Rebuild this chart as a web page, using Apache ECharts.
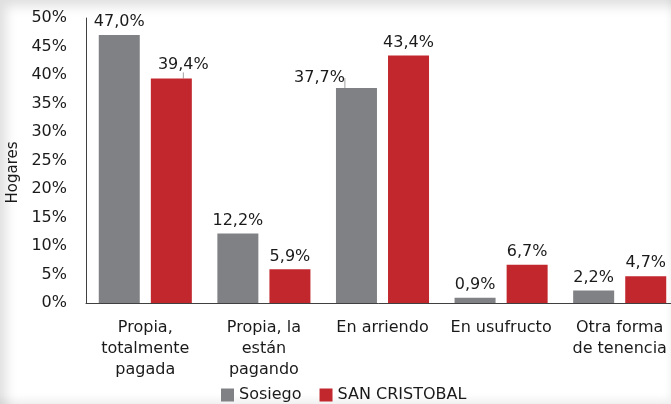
<!DOCTYPE html>
<html>
<head>
<meta charset="utf-8">
<script src="https://cdn.jsdelivr.net/npm/echarts@6/dist/echarts.min.js"></script>
<style>
    html, body { margin: 0; padding: 0; }
    body {
        width: 671px; height: 404px; overflow: hidden; background: #fff;
        box-shadow: inset 12px 12px 12px -6px rgba(0,0,0,0.13), inset -4px -8px 8px -4px rgba(0,0,0,0.07);
    }
    #chart { width: 671px; height: 404px; }
</style>
</head>
<body>
<div id="chart"></div>
<script>
    // categorias de tenencia
    var categories = ['Propia,\ntotalmente\npagada', 'Propia, la\nestán\npagando', 'En arriendo', 'En usufructo', 'Otra forma\nde tenencia'];
    var sosiego = [47.0, 12.2, 37.7, 0.9, 2.2];
    var sanCristobal = [39.4, 5.9, 43.4, 6.7, 4.7];
    var yTicks = {min: 0, max: 50, interval: 5};

    var font = 'DejaVu Sans';
    var fmt = function (v) { return v.toFixed(1).replace('.', ',') + '%'; };

    // solo las etiquetas desplazadas llevan linea guia
    var withLeader = function (values, idx) {
        return values.map(function (v, i) {
            return i === idx ? {value: v, labelLine: {show: true}} : v;
        });
    };

    var myChart = echarts.init(document.getElementById('chart'));
    var option = {
        animation: false,
        textStyle: {fontFamily: font},
        grid: {left: 86, top: 18, width: 593, height: 285, outerBoundsMode: 'none', containLabel: false},
        legend: {
            left: 216, top: 382,
            itemWidth: 13, itemHeight: 13, itemGap: 18,
            icon: 'rect',
            textStyle: {fontFamily: font, fontSize: 16, color: '#1a1a1a'},
            data: ['Sosiego', 'SAN CRISTOBAL']
        },
        xAxis: {
            type: 'category',
            data: categories,
            axisLine: {lineStyle: {color: '#404040', width: 1}},
            axisTick: {show: false},
            axisLabel: {fontFamily: font, fontSize: 16, color: '#1a1a1a', lineHeight: 21, margin: 14, interval: 0}
        },
        yAxis: {
            type: 'value',
            min: yTicks.min, max: yTicks.max, interval: yTicks.interval,
            name: 'Hogares',
            nameLocation: 'middle',
            nameGap: 60,
            nameRotate: 90,
            nameTextStyle: {fontFamily: font, fontSize: 15, color: '#1a1a1a', padding: [0, 24, 0, 0]},
            axisLine: {show: true, lineStyle: {color: '#404040', width: 1}},
            axisTick: {show: false},
            splitLine: {show: false},
            axisLabel: {formatter: '{value}%', fontFamily: font, fontSize: 16, color: '#1a1a1a', margin: 19}
        },
        series: [
            {
                name: 'Sosiego',
                type: 'bar',
                data: withLeader(sosiego, 2),
                barWidth: 41,
                barGap: '27%',
                itemStyle: {color: '#808184'},
                label: {show: true, position: 'top', distance: 5, fontSize: 16, color: '#1a1a1a', formatter: function (p) { return fmt(p.value); }},
                labelLine: {show: false, lineStyle: {color: '#a0a0a0', width: 1}},
                labelLayout: function (p) {
                    if (p.dataIndex === 2) return {dx: -37, dy: 3};
                    return {};
                }
            },
            {
                name: 'SAN CRISTOBAL',
                type: 'bar',
                data: withLeader(sanCristobal, 0),
                barWidth: 41,
                itemStyle: {color: '#c1272d'},
                label: {show: true, position: 'top', distance: 5, fontSize: 16, color: '#1a1a1a', formatter: function (p) { return fmt(p.value); }},
                labelLine: {show: false, lineStyle: {color: '#a0a0a0', width: 1}},
                labelLayout: function (p) {
                    if (p.dataIndex === 0) return {dx: 12, dy: -1};
                    return {};
                }
            }
        ]
    };
    myChart.setOption(option);
</script>
</body>
</html>
